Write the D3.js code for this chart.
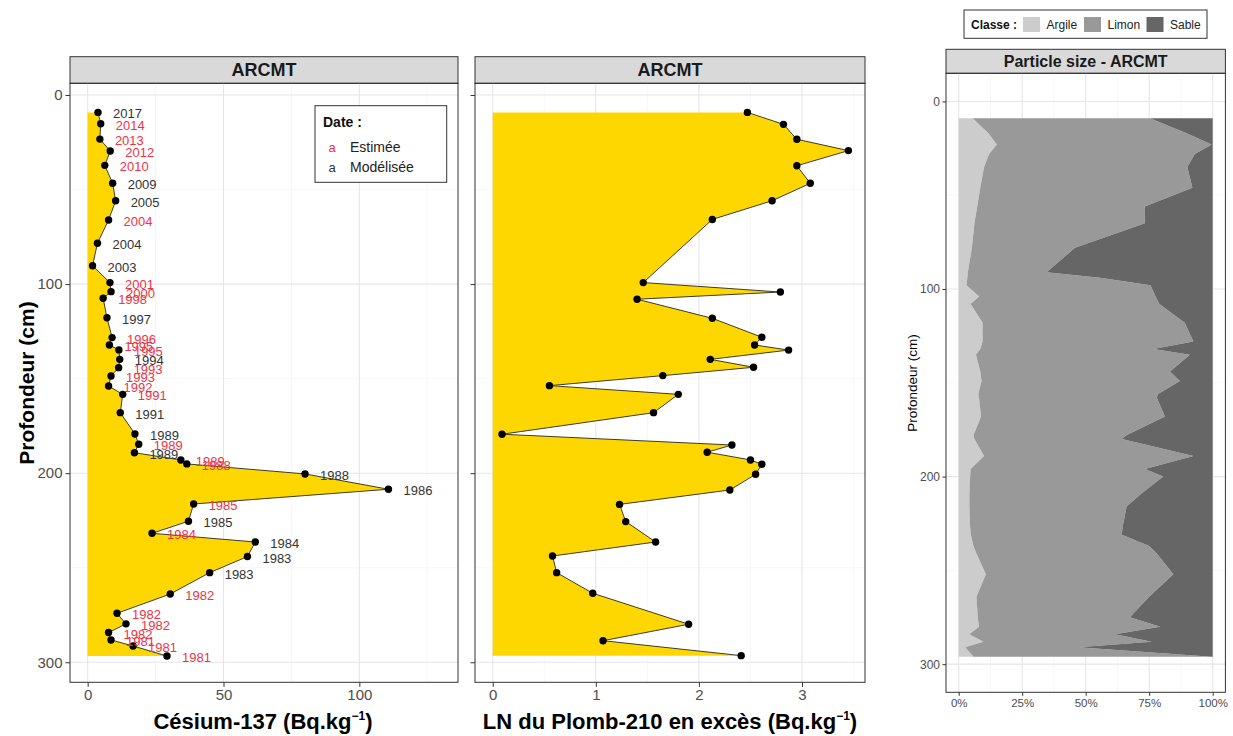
<!DOCTYPE html>
<html><head><meta charset="utf-8">
<script src="https://cdn.jsdelivr.net/npm/d3@7/dist/d3.min.js"></script>
<style>body{margin:0;background:#fff;font-family:"Liberation Sans",Arial,sans-serif;}</style>
</head><body><svg id="c" width="1233" height="736"></svg>
<script>
// ---------- DATA ----------
const csDepth = [9.2,15.2,23.3,29.6,37.2,46.7,55.9,66.1,78.4,90.3,99.2,104,107.5,117.8,128.3,132.2,134.8,139.8,144.2,148.6,153.9,158.3,168,179.3,184.7,189.2,193,195.1,200.4,208.5,216.3,225.4,231.8,236.4,244.1,252.6,263.9,274.1,279.7,284.3,288.2,291.4,296.7];
const csValue = [3.8,4.8,4.5,8.3,6.3,9.2,10.3,7.7,3.6,1.8,8.2,8.6,5.7,7.1,9.0,8.0,11.5,11.8,11.4,8.6,7.7,12.9,12.0,17.4,18.8,17.2,34.3,36.5,80,110.7,39,37.1,23.7,61.7,58.8,44.9,30.4,10.8,14.1,7.7,8.6,16.7,29.2];
const csYear = ["2017","2014","2013","2012","2010","2009","2005","2004","2004","2003","2001","2000","1998","1997","1996","1995","1995","1994","1993","1993","1992","1991","1991","1989","1989","1989","1989","1988","1988","1986","1985","1985","1984","1984","1983","1983","1982","1982","1982","1982","1981","1981","1981"];
const csType = ["M","E","E","E","E","M","M","E","M","M","E","E","E","M","E","E","E","M","E","E","E","E","M","M","E","M","E","E","M","M","E","M","E","M","M","M","E","E","E","E","E","E","E"];
const dateTypes = ["E","M"];
const dateLabels = ["Estimée","Modélisée"];

const pbDepth = [9.2,15.5,23.4,29.4,37.4,46.7,55.9,65.8,99.2,104.2,108,118.1,128.1,132.2,134.9,139.8,144,148.4,153.7,158.3,168,179.4,185.1,188.9,193,195.3,200.6,208.9,216.5,225.6,236.4,243.8,252.6,263.5,279.9,288.6,296.5];
const pbValue = [2.47,2.82,2.95,3.45,2.95,3.08,2.71,2.13,1.46,2.79,1.40,2.13,2.61,2.54,2.87,2.11,2.53,1.65,0.55,1.80,1.56,0.09,2.32,2.08,2.50,2.61,2.55,2.30,1.23,1.29,1.58,0.58,0.62,0.97,1.90,1.07,2.41];

const psDepth = [9,17,23,28,35,46,56,65,78,91,94,98,104,108,118,128,132,135,144,149,156,158,168,178,180,189,196,200,209,216,227,231,237,241,252,264,275,280,284,288,291,296];
const argile = [5.5,11.7,15,12,10,8.5,7.3,6.2,5.2,3.6,3.4,3.1,8,4.7,9.4,9.4,8.5,6.8,8.5,9,7.7,8,8.8,5.8,6.2,10,4.7,4.5,4.2,4.2,4.5,4.8,5.8,7,10.7,7,7.5,8,4.2,9.7,2.6,5.8];
const limon = [69.8,78,84.6,81,80,83.5,66,67.1,40.6,31,52.2,72.4,69.5,74.3,79.6,83,68.1,84.2,74.7,78.1,70.8,70,72.4,60.2,58,82.4,68.6,76,67.8,61.9,60,59.4,69.2,71,73.8,68,59.9,71.3,57.3,66.3,44.5,93.8];
const sable = [24.7,10.3,0.4,7,10,8,26.7,26.7,54.2,65.4,44.4,24.5,22.5,21,11,7.6,23.4,9,16.8,12.9,21.5,22,18.8,34,35.8,7.6,26.7,19.5,28,33.9,35.5,35.8,25,22,15.5,25,32.6,20.7,38.5,24,52.9,0.4];
const classes = ["Argile","Limon","Sable"];

const cesTicks = [0,50,100], cesMinor = [25,75,125];
const pbTicks = [0,1,2,3], pbMinor = [0.5,1.5,2.5,3.5];
const depthTicks = [0,100,200,300], depthMinor = [50,150,250];
const pctTicks = [0,0.25,0.5,0.75,1], pctMinor = [0.125,0.375,0.625,0.875];

// ---------- STYLE ----------
const YELLOW = "#FFD700", RED = "#EE3344", DARK = "#333333";
const fills = {Argile:"#cccccc", Limon:"#999999", Sable:"#666666"};
const FONT = "'Liberation Sans', Arial, sans-serif";
const svg = d3.select("#c");

function panel(x0,x1,yStripTop,yTop,yBot,title,titleSize){
  const g = svg.append("g");
  g.append("rect").attr("x",x0).attr("y",yStripTop).attr("width",x1-x0).attr("height",yTop-yStripTop)
    .attr("fill","#d9d9d9").attr("stroke",DARK).attr("stroke-width",1);
  g.append("text").attr("x",(x0+x1)/2).attr("y",(yStripTop+yTop)/2).attr("dy","0.36em")
    .attr("text-anchor","middle").attr("font-family",FONT).attr("font-weight","bold")
    .attr("font-size",titleSize).attr("fill","#1a1a1a").text(title);
  return g;
}
function grid(g,xs,ys,xMaj,xMin,yMaj,yMin){
  const [x0,x1]=xs.range(), [y0,y1]=ys.range();
  xMin.forEach(v=>g.append("line").attr("x1",xs(v)).attr("x2",xs(v)).attr("y1",y0).attr("y2",y1).attr("stroke","#f2f2f2").attr("stroke-width",0.6));
  yMin.forEach(v=>g.append("line").attr("y1",ys(v)).attr("y2",ys(v)).attr("x1",x0).attr("x2",x1).attr("stroke","#f2f2f2").attr("stroke-width",0.6));
  xMaj.forEach(v=>g.append("line").attr("x1",xs(v)).attr("x2",xs(v)).attr("y1",y0).attr("y2",y1).attr("stroke","#e6e6e6").attr("stroke-width",1.1));
  yMaj.forEach(v=>g.append("line").attr("y1",ys(v)).attr("y2",ys(v)).attr("x1",x0).attr("x2",x1).attr("stroke","#e6e6e6").attr("stroke-width",1.1));
}
function border(g,xs,ys){
  const [x0,x1]=xs.range(), [y0,y1]=ys.range();
  g.append("rect").attr("x",x0).attr("y",y1).attr("width",x1-x0).attr("height",y0-y1)
    .attr("fill","none").attr("stroke",DARK).attr("stroke-width",1);
}
function styleAxis(a,size){
  a.select(".domain").remove();
  a.selectAll(".tick line").attr("stroke",DARK);
  a.selectAll(".tick text").attr("fill","#4d4d4d").attr("font-family",FONT).attr("font-size",size);
}

// ---------- PANEL 1 : Cs-137 ----------
const yL = d3.scaleLinear().domain([310.6,-6.2]).range([682.3,83.3]);
const x1s = d3.scaleLinear().domain([-6.5,136.3]).range([70,458]);
const p1 = panel(70,458,56.7,83.3,682.3,"ARCMT",18);
grid(p1,x1s,yL,cesTicks,cesMinor,depthTicks,depthMinor);
const cs = csDepth.map((d,i)=>({d,v:csValue[i],y:csYear[i],t:csType[i]}));
p1.append("path").datum(cs).attr("fill",YELLOW)
  .attr("d",d3.area().x0(x1s(0)).x1(p=>x1s(p.v)).y(p=>yL(p.d)));
p1.append("path").datum(cs).attr("fill","none").attr("stroke","#3b3b2b").attr("stroke-width",1)
  .attr("d",d3.line().x(p=>x1s(p.v)).y(p=>yL(p.d)));
p1.selectAll("circle.cs").data(cs).join("circle").attr("cx",p=>x1s(p.v)).attr("cy",p=>yL(p.d)).attr("r",3.7).attr("fill","#000");
p1.selectAll("text.lab").data(cs).join("text").attr("class","lab")
  .attr("x",p=>x1s(p.v)+15).attr("y",p=>yL(p.d)+1.5).attr("dy","0.35em")
  .attr("font-family",FONT).attr("font-size",13).attr("fill",p=>p.t==="E"?RED:DARK).text(p=>p.y);
border(p1,x1s,yL);
const ax1 = svg.append("g").attr("transform","translate(0,682.3)").call(d3.axisBottom(x1s).tickValues(cesTicks).tickSize(4.5).tickPadding(3));
styleAxis(ax1,15);
const ay1 = svg.append("g").attr("transform","translate(70,0)").call(d3.axisLeft(yL).tickValues(depthTicks).tickSize(4.5).tickPadding(3));
styleAxis(ay1,15);
// legend Date
const lg = svg.append("g");
lg.append("rect").attr("x",315).attr("y",105.7).attr("width",131.7).attr("height",76.6).attr("fill","#fff").attr("stroke",DARK).attr("stroke-width",1);
lg.append("text").attr("x",323).attr("y",126.5).attr("font-family",FONT).attr("font-weight","bold").attr("font-size",14).attr("fill","#111").text("Date :");
dateTypes.forEach((t,i)=>{
  lg.append("text").attr("x",332).attr("y",151.5+i*20).attr("text-anchor","middle").attr("font-family",FONT).attr("font-size",13).attr("fill",t==="E"?RED:DARK).text("a");
  lg.append("text").attr("x",350).attr("y",151.5+i*20).attr("font-family",FONT).attr("font-size",14).attr("fill","#222").text(dateLabels[i]);
});

// ---------- PANEL 2 : Pb-210 ----------
const x2s = d3.scaleLinear().domain([-0.172,3.611]).range([475,865]);
const p2 = panel(475,865,56.7,83.3,682.3,"ARCMT",18);
grid(p2,x2s,yL,pbTicks,pbMinor,depthTicks,depthMinor);
const pb = pbDepth.map((d,i)=>({d,v:pbValue[i]}));
p2.append("path").datum(pb).attr("fill",YELLOW)
  .attr("d",d3.area().x0(x2s(0)).x1(p=>x2s(p.v)).y(p=>yL(p.d)));
p2.append("path").datum(pb).attr("fill","none").attr("stroke","#3b3b2b").attr("stroke-width",1)
  .attr("d",d3.line().x(p=>x2s(p.v)).y(p=>yL(p.d)));
p2.selectAll("circle.pb").data(pb).join("circle").attr("cx",p=>x2s(p.v)).attr("cy",p=>yL(p.d)).attr("r",3.7).attr("fill","#000");
border(p2,x2s,yL);
const ax2 = svg.append("g").attr("transform","translate(0,682.3)").call(d3.axisBottom(x2s).tickValues(pbTicks).tickFormat(d3.format("d")).tickSize(4.5).tickPadding(3));
styleAxis(ax2,15);
const ay2 = svg.append("g").attr("transform","translate(475,0)").call(d3.axisLeft(yL).tickValues(depthTicks).tickSize(4.5).tickFormat(""));
styleAxis(ay2,15);

// axis titles
function supTitle(x,y,txt){
  const t = svg.append("text").attr("x",x).attr("y",y).attr("text-anchor","middle").attr("font-family",FONT)
    .attr("font-weight","bold").attr("font-size",22).attr("fill","#000");
  t.append("tspan").text(txt+" (Bq.kg");
  t.append("tspan").attr("dy",-9).attr("font-size",12).text("−1");
  t.append("tspan").attr("dy",9).text(")");
}
supTitle(263,729,"Césium-137");
supTitle(670,729,"LN du Plomb-210 en excès");
svg.append("text").attr("transform","translate(34,383) rotate(-90)").attr("text-anchor","middle")
  .attr("font-family",FONT).attr("font-weight","bold").attr("font-size",21).attr("fill","#000").text("Profondeur (cm)");

// ---------- PANEL 3 : Particle size ----------
const x3s = d3.scaleLinear().domain([-0.05,1.05]).range([946,1225.4]);
const y3s = d3.scaleLinear().domain([315,-15]).range([692.3,73.3]);
const p3 = panel(946,1225.4,49.3,73.3,692.3,"Particle size - ARCMT",16);
grid(p3,x3s,y3s,pctTicks,pctMinor,depthTicks,depthMinor);
const rows = psDepth.map((d,i)=>({depth:d,Argile:argile[i],Limon:limon[i],Sable:sable[i]}));
const stack = d3.stack().keys(classes).offset(d3.stackOffsetExpand)(rows);
p3.selectAll("path.ps").data(stack).join("path").attr("fill",s=>fills[s.key])
  .attr("d",d3.area().y(p=>y3s(p.data.depth)).x0(p=>x3s(p[0])).x1(p=>x3s(p[1])));
border(p3,x3s,y3s);
const ax3 = svg.append("g").attr("transform","translate(0,692.3)").call(d3.axisBottom(x3s).tickValues(pctTicks).tickFormat(d3.format(".0%")).tickSize(3.5).tickPadding(3));
styleAxis(ax3,11.5);
const ay3 = svg.append("g").attr("transform","translate(946,0)").call(d3.axisLeft(y3s).tickValues(depthTicks).tickSize(3.5).tickPadding(2.5));
styleAxis(ay3,12);
svg.append("text").attr("transform","translate(917,383) rotate(-90)").attr("text-anchor","middle")
  .attr("font-family",FONT).attr("font-size",13.5).attr("fill","#000").text("Profondeur (cm)");
// legend Classe
const lg3 = svg.append("g");
lg3.append("rect").attr("x",964).attr("y",10).attr("width",243).attr("height",28.3).attr("fill","#fff").attr("stroke",DARK).attr("stroke-width",1);
lg3.append("text").attr("x",971).attr("y",28.5).attr("font-family",FONT).attr("font-weight","bold").attr("font-size",12).attr("fill","#111").text("Classe :");
const lgX = [1023,1084,1146.5];
classes.forEach((c,i)=>{
  lg3.append("rect").attr("x",lgX[i]).attr("y",17).attr("width",17).attr("height",15).attr("fill",fills[c]);
  lg3.append("text").attr("x",lgX[i]+23.5).attr("y",28.5).attr("font-family",FONT).attr("font-size",12).attr("fill","#222").text(c);
});
</script></body></html>
